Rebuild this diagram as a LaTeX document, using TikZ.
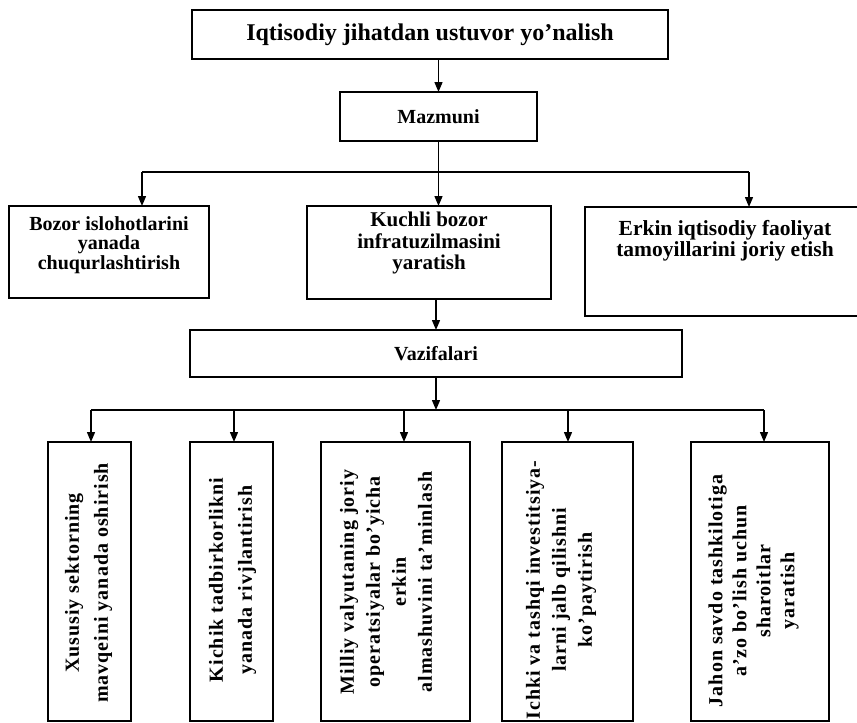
\documentclass[tikz,border=0pt]{standalone}
\usepackage{fontspec}
\setmainfont{Liberation Serif}
\newfontfamily\rotfam[LetterSpace=5]{Liberation Serif}
\usetikzlibrary{arrows.meta}
\newcommand\fTop{\fontsize{24}{28}\selectfont\bfseries}
\newcommand\fMid{\fontsize{20}{19.5}\selectfont\bfseries}
\begin{document}
\begin{tikzpicture}[x=1pt,y=-1pt,
  box/.style={draw, line width=1.5pt, inner sep=0pt, outer sep=0pt},
  arr/.style={line width=1.4pt, -{Triangle[length=10pt,width=8pt]}},
  ln/.style={line width=1.4pt},
  txt/.style={align=center, inner sep=0pt, font=\fMid},
  rtxt/.style={align=center, inner sep=0pt, rotate=90},
]
\clip (0,0) rectangle (857,723);
\fill[white] (0,0) rectangle (857,723);
% top level
\node[box, minimum width=476pt, minimum height=49pt, font=\fTop] (top) at (430,34.5) {Iqtisodiy jihatdan ustuvor yo’nalish};
\node[box, minimum width=197pt, minimum height=49pt, font=\fMid] (maz) at (438.5,116.5) {Mazmuni};
% second row
\node[box, minimum width=200pt, minimum height=92pt] (boz) at (109,252) {};
\node[box, minimum width=244pt, minimum height=93pt] (kuc) at (429,252.5) {};
\node[box, minimum width=285pt, minimum height=109pt] (erk) at (727.5,261.5) {};
\node[txt] (bozt) at (109,245) {Bozor islohotlarini\\yanada\\chuqurlashtirish};
\node[txt, font=\fontsize{21}{21.5}\selectfont\bfseries] (kuct) at (429,243) {Kuchli bozor\\infratuzilmasini\\yaratish};
\node[txt, font=\fontsize{21.5}{21.5}\selectfont\bfseries] (erkt) at (725,240.5) {Erkin iqtisodiy faoliyat\\tamoyillarini joriy etish};
% vazifalari
\node[box, minimum width=492pt, minimum height=47pt, font=\fMid] (vaz) at (436,353.5) {Vazifalari};
% bottom row
\node[box, minimum width=83pt, minimum height=279pt] (b1) at (89.5,581.5) {};
\node[box, minimum width=83pt, minimum height=279pt] (b2) at (231.5,581.5) {};
\node[box, minimum width=149pt, minimum height=279pt] (b3) at (395.5,581.5) {};
\node[box, minimum width=131pt, minimum height=279pt] (b4) at (567.5,581.5) {};
\node[box, minimum width=138pt, minimum height=279pt] (b5) at (760,581.5) {};
\node[rtxt, font=\rotfam\bfseries\fontsize{20}{29}\selectfont] (b1t) at (88.5,583) {Xususiy sektorning\\mavqeini yanada oshirish};
\node[rtxt, font=\rotfam\bfseries\fontsize{20}{29}\selectfont] (b2t) at (232.5,580) {Kichik tadbirkorlikni\\yanada rivjlantirish};
\node[rtxt, font=\rotfam\bfseries\fontsize{20}{26}\selectfont] (b3t) at (386,582) {Milliy valyutaning joriy\\operatsiyalar bo’yicha\\erkin\\almashuvini ta’minlash};
\node[rtxt, font=\rotfam\bfseries\fontsize{20}{26}\selectfont] (b4t) at (561,590) {Ichki va tashqi investitsiya-\\larni jalb qilishni\\ko’paytirish};
\node[rtxt, font=\rotfam\bfseries\fontsize{20}{24}\selectfont] (b5t) at (753.5,591) {Jahon savdo tashkilotiga\\a’zo bo’lish uchun\\sharoitlar\\yaratish};
% connectors upper
\draw[arr] (maz.north |- top.south) -- (maz.north);
\coordinate (j1) at (438.5,172);
\coordinate (jL) at (142,172);
\coordinate (jR) at (749,172);
\draw[ln] (maz.south) -- (j1);
\draw[ln] (jL) -- (jR);
\draw[arr] (jL) -- (jL |- boz.north);
\draw[arr] (j1) -- (j1 |- kuc.north);
\draw[arr] (jR) -- (jR |- erk.north);
\draw[arr] (vaz.north |- kuc.south) -- (vaz.north);
% connectors lower
\coordinate (k1) at (436,410);
\coordinate (kL) at (91,410);
\coordinate (k2) at (234,410);
\coordinate (k3) at (404,410);
\coordinate (k4) at (568,410);
\coordinate (kR) at (764,410);
\draw[arr] (vaz.south) -- (k1);
\draw[ln] (kL) -- (kR);
\draw[arr] (kL) -- (kL |- b1.north);
\draw[arr] (k2) -- (k2 |- b2.north);
\draw[arr] (k3) -- (k3 |- b3.north);
\draw[arr] (k4) -- (k4 |- b4.north);
\draw[arr] (kR) -- (kR |- b5.north);
\end{tikzpicture}
\end{document}
